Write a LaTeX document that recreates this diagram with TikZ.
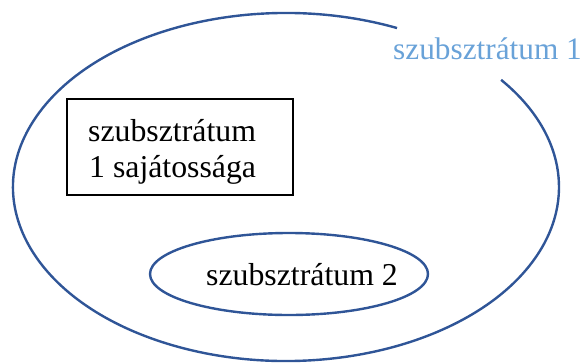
\documentclass[tikz,border=0pt]{standalone}
\usepackage{fontspec}
\setmainfont{Liberation Serif}
\usetikzlibrary{shapes.geometric}
\definecolor{ellblue}{RGB}{47,85,151}
\definecolor{lblblue}{RGB}{105,162,216}
\begin{document}
\begin{tikzpicture}[x=1pt,y=1pt,
  lbl/.style={inner sep=0pt, anchor=base west, font=\fontsize{31.8}{36}\selectfont},
  ell/.style={draw=ellblue, line width=2.4pt}]
\useasboundingbox (0,0) rectangle (584,-362);
% big ellipse with gap
\coordinate (bigc) at (286,-187);
\draw[ell] ([shift={(66:273 and 174)}]bigc) arc[start angle=66, end angle=398, x radius=273, y radius=174];
% small ellipse
\node[ell, ellipse, minimum width=278pt, minimum height=82pt, inner sep=0pt] (small) at (289,-274) {};
% rectangle
\node[draw=black, line width=1.8pt, minimum width=226pt, minimum height=96pt, inner sep=0pt] (box) at (180,-147) {};
% texts
\node[lbl, text=lblblue, font=\fontsize{31.3}{36}\selectfont] (s1) at (393,-59) {szubsztrátum 1};
\node[lbl] (t1) at (88,-141) {szubsztrátum};
\node[lbl] (t2) at (89,-177) {1 sajátossága};
\node[lbl] (s2) at (206,-285) {szubsztrátum 2};
\end{tikzpicture}
\end{document}
